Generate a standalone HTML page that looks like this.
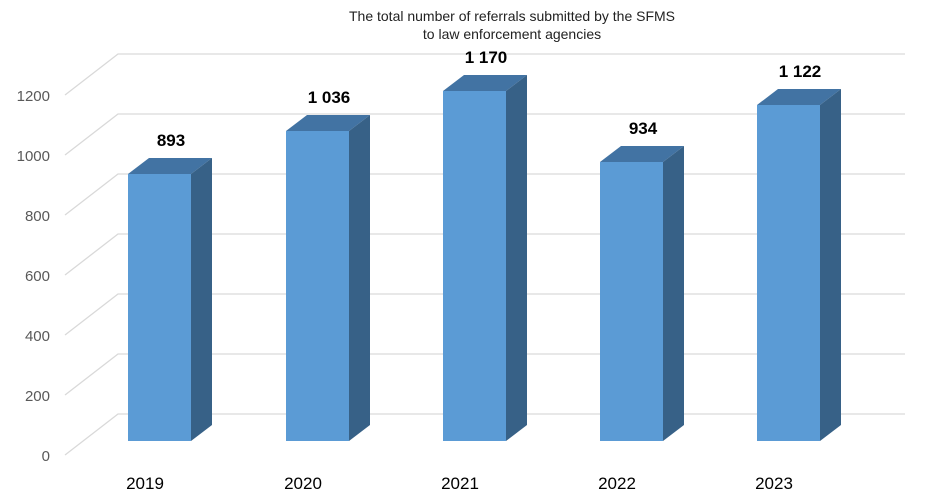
<!DOCTYPE html>
<html><head><meta charset="utf-8"><style>body{margin:0;background:#fff}svg{display:block}</style></head><body>
<svg width="947" height="498" xmlns="http://www.w3.org/2000/svg" font-family="Liberation Sans, sans-serif">
<rect width="947" height="498" fill="#fff"/>
<text x="512" y="21" font-size="14" text-anchor="middle" fill="#222">The total number of referrals submitted by the SFMS</text>
<text x="512" y="39" font-size="14" text-anchor="middle" fill="#222">to law enforcement agencies</text>
<g stroke="#d9d9d9" stroke-width="1.3" fill="none">
<path d="M65 95L118 54H905M65 155L118 114H905M65 215L118 174H905M65 275L118 234H905M65 335L118 294H905M65 395L118 354H905M65 455L118 414H905"/>
</g>
<g font-size="15" fill="#595959" text-anchor="end">
<text x="50" y="101">1200</text><text x="50" y="161">1000</text><text x="50" y="221">800</text><text x="50" y="281">600</text><text x="50" y="341">400</text><text x="50" y="401">200</text><text x="50" y="461">0</text>
</g>
<polygon points="128,174 149,158 212,158 191,174" fill="#4273a3"/>
<polygon points="191,174 212,158 212,425 191,441" fill="#376187"/>
<rect x="128" y="174" width="63" height="267" fill="#5b9bd5"/>
<polygon points="286,131 307,115 370,115 349,131" fill="#4273a3"/>
<polygon points="349,131 370,115 370,425 349,441" fill="#376187"/>
<rect x="286" y="131" width="63" height="310" fill="#5b9bd5"/>
<polygon points="443,91 464,75 527,75 506,91" fill="#4273a3"/>
<polygon points="506,91 527,75 527,425 506,441" fill="#376187"/>
<rect x="443" y="91" width="63" height="350" fill="#5b9bd5"/>
<polygon points="600,162 621,146 684,146 663,162" fill="#4273a3"/>
<polygon points="663,162 684,146 684,425 663,441" fill="#376187"/>
<rect x="600" y="162" width="63" height="279" fill="#5b9bd5"/>
<polygon points="757,105 778,89 841,89 820,105" fill="#4273a3"/>
<polygon points="820,105 841,89 841,425 820,441" fill="#376187"/>
<rect x="757" y="105" width="63" height="336" fill="#5b9bd5"/>
<g font-size="17" font-weight="bold" text-anchor="middle" fill="#000">
<text x="171" y="146">893</text>
<text x="329" y="103">1 036</text>
<text x="486" y="63">1 170</text>
<text x="643" y="134">934</text>
<text x="800" y="77">1 122</text>
</g>
<g font-size="17" text-anchor="middle" fill="#000">
<text x="145" y="489">2019</text>
<text x="303" y="489">2020</text>
<text x="460" y="489">2021</text>
<text x="617" y="489">2022</text>
<text x="774" y="489">2023</text>
</g>
</svg>
</body></html>
